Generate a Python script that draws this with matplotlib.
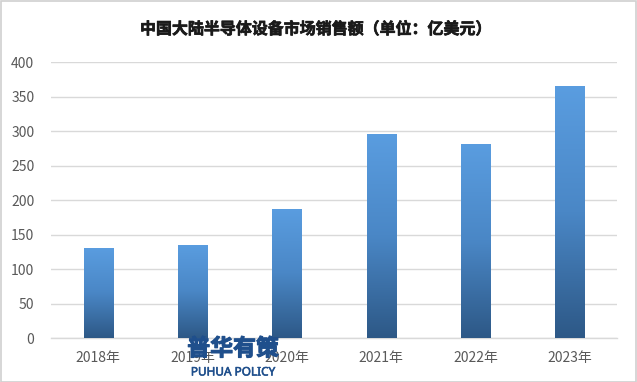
import numpy as np
import matplotlib
matplotlib.use("Agg")
import matplotlib.pyplot as plt
import matplotlib.patheffects as pe
from matplotlib.colors import LinearSegmentedColormap
from matplotlib.patches import Rectangle

plt.rcParams['font.family'] = ['Noto Sans CJK SC', 'DejaVu Sans']

categories = ['2018年', '2019年', '2020年', '2021年', '2022年', '2023年']
values = [130.5, 134.8, 187.2, 296.0, 282.0, 365.0]
title = '中国大陆半导体设备市场销售额（单位：亿美元）'
yticks = [0, 50, 100, 150, 200, 250, 300, 350, 400]

W, H = 637, 382
fig = plt.figure(figsize=(W / 100, H / 100), dpi=100)
fig.patch.set_facecolor('white')
fig.add_artist(Rectangle((0.5 / W, 0.5 / H), 1 - 1.5 / W, 1 - 1.5 / H,
                         transform=fig.transFigure, fill=False,
                         edgecolor='#d0d0d0', linewidth=1.2))

ax = fig.add_axes([51 / W, 1 - 338.3 / H, 566 / W, 276 / H])
x = np.arange(len(categories))
bars = ax.bar(x, values, width=0.31, facecolor='none', edgecolor='none', zorder=3)

cmap = LinearSegmentedColormap.from_list('g', ['#2d5886', '#4a87c6', '#5a9de0'])
grad = np.linspace(0, 1, 256).reshape(-1, 1)
for b in bars:
    x0, w, h = b.get_x(), b.get_width(), b.get_height()
    im = ax.imshow(grad, cmap=cmap, origin='lower', aspect='auto',
                   extent=[x0, x0 + w, 0, h], zorder=3, interpolation='bicubic')
    im.set_clip_path(b)

ax.set_xlim(-0.5, len(categories) - 0.5)
ax.set_ylim(0, 400)
ax.set_yticks(yticks)
ax.set_xticks(x)
ax.set_xticklabels(categories)
ax.grid(axis='y', color='#d9d9d9', linewidth=1.0, zorder=0)
ax.set_axisbelow(True)
for s in ['top', 'right', 'left']:
    ax.spines[s].set_visible(False)
ax.spines['bottom'].set_color('#d9d9d9')
ax.spines['bottom'].set_linewidth(1.0)
ax.tick_params(axis='both', length=0, labelsize=10, labelcolor='#595959')
ax.tick_params(axis='x', pad=9)
ax.tick_params(axis='y', pad=12)

fig.text(316 / W, 1 - 29 / H, title, ha='center', va='center',
         fontsize=11.5, fontweight='bold', color='#1a1a1a',
         path_effects=[pe.withStroke(linewidth=0.5, foreground='#1a1a1a')])

fig.text(233 / W, 1 - 349 / H, '普华有策', ha='center', va='center',
         fontsize=16.5, fontweight='bold', color='#1f4f8c', zorder=10,
         path_effects=[pe.withStroke(linewidth=0.8, foreground='#1f4f8c')])
fig.text(233 / W, 1 - 372 / H, 'PUHUA POLICY', ha='center', va='center',
         fontsize=8.5, fontweight='bold', color='#1f4f8c', zorder=10,
         family=['Noto Sans', 'DejaVu Sans'],
         path_effects=[pe.withStroke(linewidth=0.4, foreground='#1f4f8c')])

fig.savefig('out.png', dpi=100, facecolor='white')
